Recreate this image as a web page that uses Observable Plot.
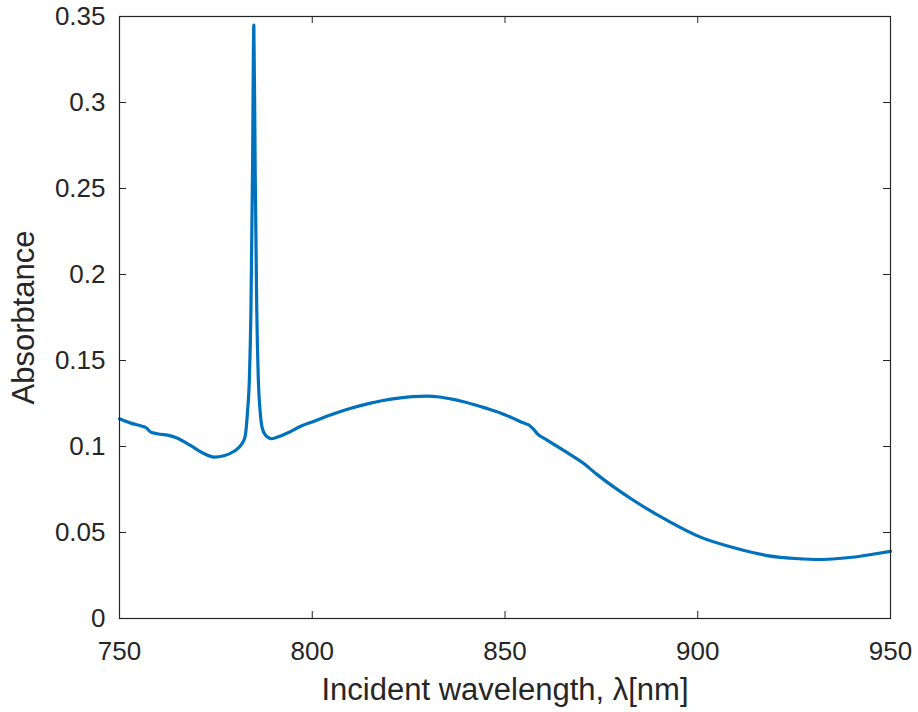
<!DOCTYPE html>
<html><head><meta charset="utf-8">
<script src="https://cdn.jsdelivr.net/npm/d3@7"></script>
<script src="https://cdn.jsdelivr.net/npm/@observablehq/plot@0.6"></script>
<style>body{margin:0;background:#fff}</style>
</head><body><div id="chart"></div>
<script>
const wavelength = [750, 752.9, 755.9, 757, 758, 759.8, 763.2, 764.9, 768.4, 771.9, 774.5, 777.1, 779.6, 781.8, 782.6, 783.2, 783.7, 784.1, 784.5, 784.85, 785.2, 785.6, 786.0, 786.5, 787.0, 787.9, 789.4, 791, 794, 797, 800, 805.6, 810, 814.3, 818, 822.9, 826, 829.8, 833, 835.9, 839, 841.9, 845, 848.8, 852, 854.9, 856.2, 857.2, 858.4, 861, 865.3, 870, 874, 878, 883.4, 892.1, 900.7, 909.4, 918, 926.7, 930.1, 935, 940, 945, 950];
const absorbtance = [0.1161, 0.1136, 0.1118, 0.1108, 0.1085, 0.1074, 0.1062, 0.1050, 0.1006, 0.0959, 0.0938, 0.0946, 0.0971, 0.1017, 0.106, 0.12, 0.14, 0.18, 0.26, 0.345, 0.26, 0.18, 0.14, 0.12, 0.111, 0.1065, 0.1045, 0.1055, 0.1083, 0.1118, 0.1143, 0.119, 0.1222, 0.1248, 0.1266, 0.1283, 0.129, 0.1293, 0.1288, 0.1277, 0.1262, 0.1244, 0.1223, 0.1195, 0.1165, 0.1136, 0.1125, 0.1105, 0.1074, 0.1036, 0.0976, 0.0908, 0.0835, 0.0768, 0.0686, 0.057, 0.0473, 0.0411, 0.0366, 0.0347, 0.0343, 0.0346, 0.0356, 0.0372, 0.039];
const xTicks = [750, 800, 850, 900, 950];
const yTicks = [0, 0.05, 0.1, 0.15, 0.2, 0.25, 0.3, 0.35];
const xLabel = "Incident wavelength, λ[nm]";
const yLabel = "Absorbtance";

const data = wavelength.map((w, i) => ({w, a: absorbtance[i]}));
const W = 918, H = 712, mL = 119, mR = 28, mT = 16, mB = 94;
const innerW = W - mL - mR, innerH = H - mT - mB;
const tickLen = 7;
const ink = "#262626";

const chart = Plot.plot({
  width: W, height: H,
  marginLeft: mL, marginRight: mR, marginTop: mT, marginBottom: mB,
  style: {fontFamily: "'Liberation Sans', Arial, Helvetica, sans-serif", color: ink, background: "#fff"},
  x: {domain: [750, 950]},
  y: {domain: [0, 0.35]},
  marks: [
    Plot.tickX(xTicks, {x: d => d, insetTop: innerH - tickLen, stroke: ink}),
    Plot.tickX(xTicks, {x: d => d, insetBottom: innerH - tickLen, stroke: ink}),
    Plot.tickY(yTicks, {y: d => d, insetRight: innerW - tickLen, stroke: ink}),
    Plot.tickY(yTicks, {y: d => d, insetLeft: innerW - tickLen, stroke: ink}),
    Plot.line(data, {x: "w", y: "a", stroke: "#0072BD", strokeWidth: 3.2, curve: "monotone-x"}),
    Plot.frame({stroke: ink, strokeWidth: 1.2}),
    Plot.axisX({ticks: xTicks, tickSize: 0, tickPadding: 23, fontSize: 26, label: null, tickFormat: d => `${d}`, fill: ink}),
    Plot.axisY({ticks: yTicks, tickSize: 0, tickPadding: 14, fontSize: 26, label: null, tickFormat: d => `${d}`, fill: ink}),
    Plot.text([xLabel], {text: d => d, frameAnchor: "bottom", dy: 72, textAnchor: "middle", lineAnchor: "middle", fontSize: 31, fill: ink}),
    Plot.text([yLabel], {text: d => d, frameAnchor: "left", dx: -95, rotate: -90, textAnchor: "middle", lineAnchor: "middle", fontSize: 31, fill: ink})
  ]
});
document.getElementById("chart").appendChild(chart);
</script>
</body></html>
